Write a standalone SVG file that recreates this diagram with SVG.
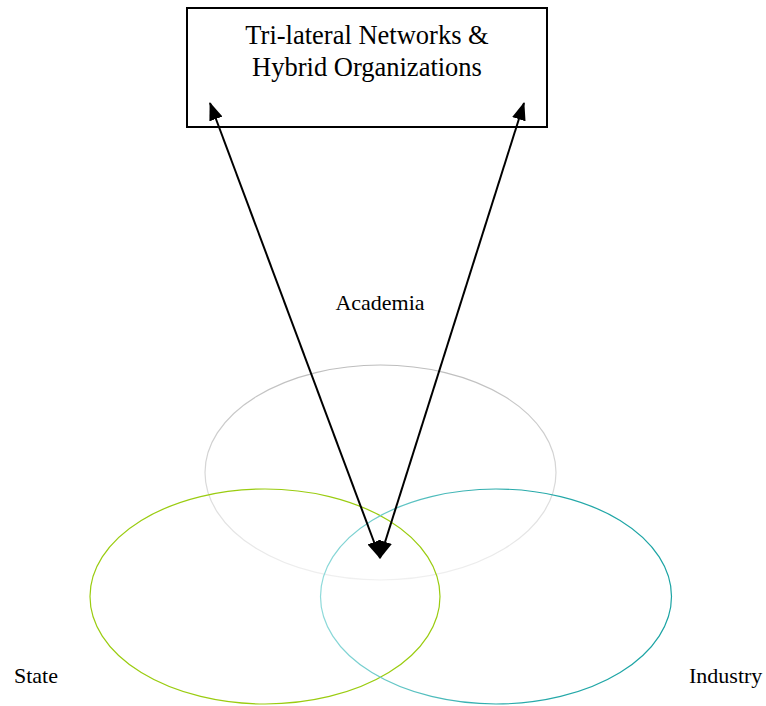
<svg xmlns="http://www.w3.org/2000/svg" width="766" height="706" viewBox="0 0 766 706">
<style>
text{font-family:"Liberation Serif","Times New Roman",serif;fill:#000}
.title{font-size:26.5px;text-anchor:middle}
.lbl{font-size:22px}
.conn{stroke:#000;stroke-width:2;fill:none;marker-start:url(#ah);marker-end:url(#ah)}
</style>
<defs>
<marker id="ah" viewBox="0 0 18 14" refX="17" refY="7" markerWidth="18" markerHeight="14" markerUnits="userSpaceOnUse" orient="auto-start-reverse">
<path d="M0,0 L18,7 L0,14 Z" fill="#000"/>
</marker>
<linearGradient id="gA" x1="0" y1="0" x2="0" y2="1">
<stop offset="0" stop-color="#bdbdbd"/>
<stop offset="1" stop-color="#f0f0f0"/>
</linearGradient>
<linearGradient id="gI" x1="0" y1="0" x2="1" y2="0">
<stop offset="0" stop-color="#8fdada"/>
<stop offset="0.5" stop-color="#2aabab"/>
<stop offset="1" stop-color="#1aa3a3"/>
</linearGradient>
</defs>
<g id="academia">
<ellipse cx="380.5" cy="472.5" rx="175.5" ry="107.5" fill="none" stroke="url(#gA)" stroke-width="1.2"/>
<text class="lbl" x="380" y="310" text-anchor="middle">Academia</text>
</g>
<g id="state">
<ellipse cx="265" cy="596.5" rx="175" ry="107.5" fill="none" stroke="#9acc10" stroke-width="1.2"/>
<text class="lbl" x="14" y="683">State</text>
</g>
<g id="industry">
<ellipse cx="496" cy="596.5" rx="175.5" ry="107.5" fill="none" stroke="url(#gI)" stroke-width="1.2"/>
<text class="lbl" x="689" y="683">Industry</text>
</g>
<g id="hybrid">
<rect x="187" y="8" width="360" height="119" fill="#fff" stroke="#000" stroke-width="2"/>
<text class="title" x="367" y="44">Tri-lateral Networks &amp;</text>
<text class="title" x="367" y="76">Hybrid Organizations</text>
</g>
<g id="connectors">
<line class="conn" x1="380" y1="558" x2="210" y2="103"/>
<line class="conn" x1="380" y1="558" x2="524" y2="103"/>
</g>
</svg>
